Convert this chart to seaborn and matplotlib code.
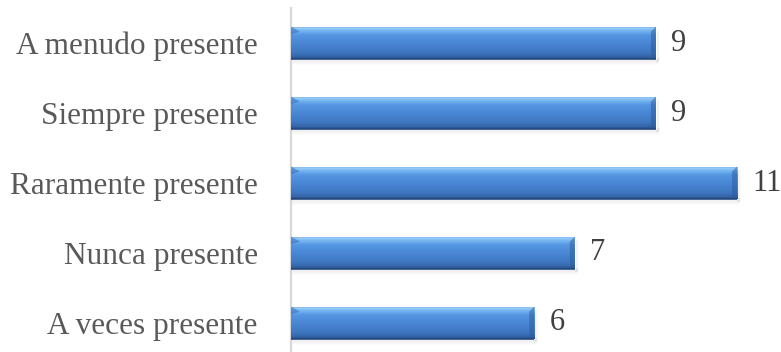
import numpy as np
import pandas as pd
import matplotlib
matplotlib.use("Agg")
import matplotlib.pyplot as plt
import seaborn as sns
from matplotlib.colors import LinearSegmentedColormap
from matplotlib.patches import Polygon

categories = ["A menudo presente", "Siempre presente", "Raramente presente",
              "Nunca presente", "A veces presente"]
counts = [9, 9, 11, 7, 6]

sns.set_theme(style="white")
plt.rcParams["font.family"] = ["Liberation Serif", "DejaVu Serif"]

W, H = 781, 352
fig = plt.figure(figsize=(W / 100, H / 100), dpi=100)
ax_left, ax_w = 291, 486.6
ax_top, ax_h = 8, 350
ax = fig.add_axes([ax_left / W, (H - ax_top - ax_h) / H, ax_w / W, ax_h / H])

df = pd.DataFrame({"categoria": categories, "frecuencia": counts})
sns.barplot(data=df, x="frecuencia", y="categoria", orient="h",
            color="#4a88d6", saturation=1, width=0.47, ax=ax, zorder=2)

xmax = 12
ax.set_xlim(0, xmax)
ax.set_ylim(len(categories) - 0.5, -0.5)
px_x = xmax / ax_w             # data units per pixel, horizontal
px_y = len(categories) / ax_h  # data units per pixel, vertical

# cylinder-like vertical shading for each bar
shade = LinearSegmentedColormap.from_list("shade", [
    (0.00, "#5d9ae0"),
    (0.05, "#9ccff9"),
    (0.12, "#79b9f2"),
    (0.26, "#5697e2"),
    (0.50, "#4a87d5"),
    (0.80, "#3f77c1"),
    (0.93, "#3566a9"),
    (1.00, "#264c80"),
])
grad = np.linspace(0, 1, 64).reshape(-1, 1)

for patch in list(ax.patches):
    x0, y0 = patch.get_x(), patch.get_y()
    w, h = patch.get_width(), patch.get_height()
    x1, y1 = x0 + w, y0 + h

    # soft shadow under and right of the bar
    n = 7
    for i in range(n):
        a = 0.17 * (1 - i / n)
        ax.fill_between([x0 + 1 * px_x, x1 + 3 * px_x],
                        y1 + (i - 1) * px_y, y1 + i * px_y,
                        color="#7a7a7a", alpha=a, lw=0, zorder=1)
    for i in range(4):
        a = 0.14 * (1 - i / 4)
        ax.fill_between([x1 + i * px_x, x1 + (i + 1) * px_x],
                        y0 + 3 * px_y, y1 + 3 * px_y,
                        color="#7a7a7a", alpha=a, lw=0, zorder=1)

    img = ax.imshow(grad, cmap=shade, aspect="auto", origin="upper",
                    extent=(x0, x1, y1, y0), zorder=3, interpolation="bilinear")
    img.set_clip_path(patch)

    # bevelled ends
    bx, by = 5 * px_x, 5 * px_y
    right = Polygon([(x1, y0), (x1, y1), (x1 - bx, y1 - by * 0.6), (x1 - bx, y0 + by)],
                    closed=True, facecolor="#2a5a9a", alpha=0.5, lw=0, zorder=4)
    left = Polygon([(x0, y0), (x0 + bx * 1.8, y0 + by), (x0, y0 + by * 1.6)],
                   closed=True, facecolor="#3a74c0", alpha=0.6, lw=0, zorder=4)
    ax.add_patch(right)
    ax.add_patch(left)
    ax.plot([x0, x1], [y1 - 0.5 * px_y, y1 - 0.5 * px_y], color="#244a80",
            lw=1.2, zorder=5, solid_capstyle="butt")

ax.bar_label(ax.containers[0], labels=[str(v) for v in counts], padding=11,
             fontsize=22, color="#404040")

for side in ["top", "right", "bottom"]:
    ax.spines[side].set_visible(False)
ax.spines["left"].set_color("#d9d9d9")
ax.spines["left"].set_linewidth(1.6)
ax.set_xticks([])
ax.set_xlabel("")
ax.set_ylabel("")
ax.tick_params(axis="y", length=0, pad=24, labelsize=22.5, labelcolor="#595959")

fig.savefig("out.png", dpi=100)
